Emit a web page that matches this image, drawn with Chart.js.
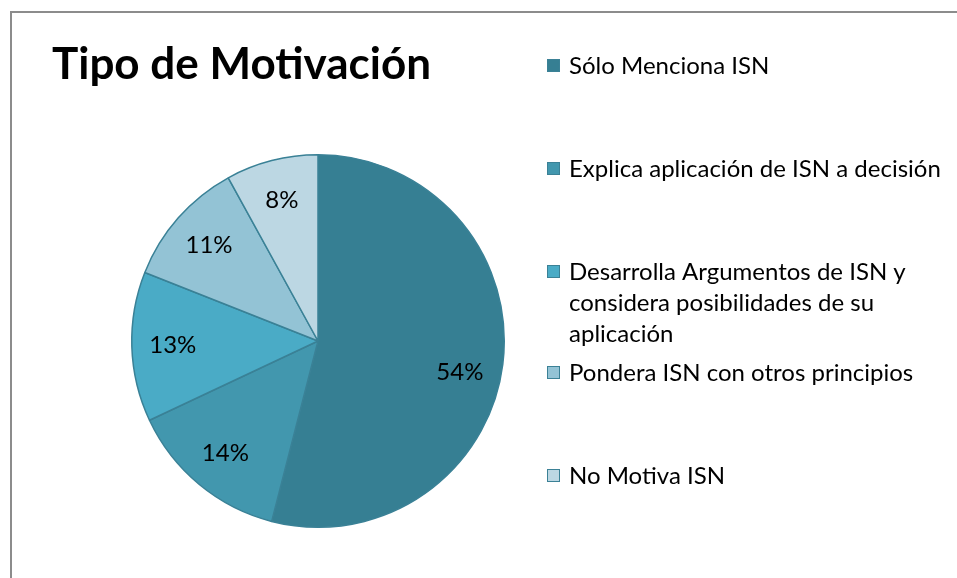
<!DOCTYPE html>
<html>
<head>
<meta charset="utf-8">
<script src="https://cdn.jsdelivr.net/npm/chart.js@4.4.1/dist/chart.umd.min.js"></script>
<style>
 html, body { margin: 0; padding: 0; background: #fff; }
 #wrap { width: 957px; height: 578px; }
</style>
</head>
<body>
<div id="wrap"><canvas id="myChart" width="957" height="578"></canvas></div>
<script>
// chart data
const chartTitle = 'Tipo de Motivación';
const categories = [
 ['Sólo Menciona ISN'],
 ['Explica aplicación de ISN a decisión'],
 ['Desarrolla Argumentos de ISN y', 'considera posibilidades de su', 'aplicación'],
 ['Pondera ISN con otros principios'],
 ['No Motiva ISN']
];
const percentages = [54, 14, 13, 11, 8];
const sliceColors = ['#367f93', '#4297ae', '#4aabc6', '#93c3d5', '#bcd7e3'];

const textFont = 'Lato, "Open Sans", sans-serif';

// legend rows (y of first line) and line spacing, as in the original layout
const legendX = 547;
const legendRows = [65, 168, 271, 372, 475];
const legendLine = 31;

// draws frame, title, legend and the percent labels
const decorPlugin = {
 id: 'decor',
 afterDatasetsDraw(chart) {
  const ctx = chart.ctx;
  const meta = chart.getDatasetMeta(0);
  ctx.save();
  ctx.fillStyle = '#000';
  ctx.font = '24px ' + textFont;
  ctx.textAlign = 'center';
  ctx.textBaseline = 'middle';
  meta.data.forEach(function(arc, i) {
   // the big slice gets its label pushed a little lower, like Excel's best fit
   const mid = (arc.startAngle + arc.endAngle) / 2 + (i === 0 ? 0.09 : 0);
   const r = arc.outerRadius * 0.78;
   const x = arc.x + Math.cos(mid) * r;
   const y = arc.y + Math.sin(mid) * r;
   ctx.fillText(percentages[i] + '%', x, y);
  });
  ctx.restore();
 },
 afterDraw(chart) {
  const ctx = chart.ctx;
  ctx.save();
  // frame of the chart box
  ctx.strokeStyle = '#8c8c8c';
  ctx.lineWidth = 2;
  ctx.beginPath();
  ctx.moveTo(11, 578);
  ctx.lineTo(11, 12);
  ctx.lineTo(957, 12);
  ctx.stroke();

  // title
  ctx.fillStyle = '#000';
  ctx.textBaseline = 'alphabetic';
  ctx.textAlign = 'left';
  ctx.font = 'bold 44px ' + textFont;
  ctx.fillText(chartTitle, 52, 79);

  // legend
  ctx.font = '24px ' + textFont;
  ctx.textBaseline = 'middle';
  categories.forEach(function(lines, i) {
   const y = legendRows[i];
   ctx.fillStyle = sliceColors[i];
   ctx.fillRect(legendX, y - 6, 13, 13);
   ctx.strokeStyle = '#3b8196';
   ctx.lineWidth = 1;
   ctx.strokeRect(legendX + 0.5, y - 5.5, 12, 12);
   ctx.fillStyle = '#000';
   lines.forEach(function(line, j) {
    ctx.fillText(line, legendX + 22, y + 1 + j * legendLine);
   });
  });
  ctx.restore();
 }
};

function renderChart() {
 const ctx = document.getElementById('myChart').getContext('2d');
 new Chart(ctx, {
  type: 'pie',
  data: {
   labels: categories.map(function(l) { return l.join(' '); }),
   datasets: [{
    data: percentages,
    backgroundColor: sliceColors,
    borderColor: '#3a8196',
    borderWidth: 1.5
   }]
  },
  options: {
   responsive: false,
   animation: false,
   devicePixelRatio: 1,
   layout: {
    padding: { left: 131, right: 452, top: 154, bottom: 50 }
   },
   plugins: {
    legend: { display: false },
    tooltip: { enabled: false }
   }
  },
  plugins: [decorPlugin]
 });
}

window.addEventListener('load', renderChart);
</script>
</body>
</html>
